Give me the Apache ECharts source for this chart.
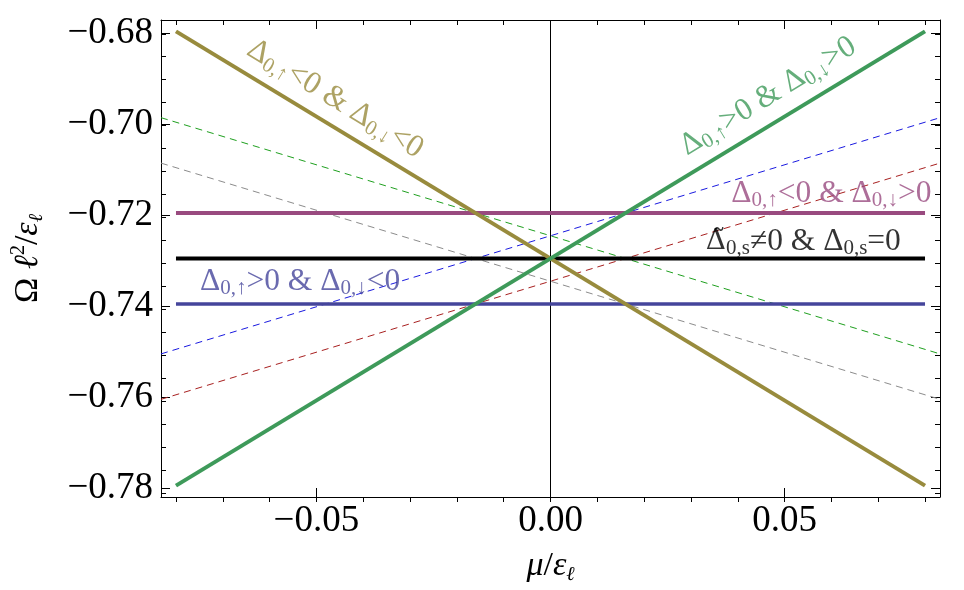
<!DOCTYPE html>
<html>
<head>
<meta charset="utf-8">
<script src="https://cdn.jsdelivr.net/npm/echarts@6/dist/echarts.min.js"></script>
<style>
  html, body { margin: 0; background: #fff; }
  #chart { width: 964px; height: 590px; }
</style>
</head>
<body>
<div id="chart"></div>
<script>
// axis ranges (plot frame)
const xRange = [-0.0832, 0.0832];
const yRange = [-0.782, -0.677];

// solid curves, sampled at their two end points
const xSolid = [-0.08, 0.08];
const oliveY = [-0.6795, -0.7795];
const greenY = [-0.7795, -0.6795];
const purpleY = [-0.7195, -0.7195];
const blackY = [-0.7295, -0.7295];
const navyY = [-0.7395, -0.7395];

// dashed lines, values at the frame edges
const xDash = [-0.0832, 0.0832];
const dashGreenY = [-0.6985, -0.7505];
const dashBlueY = [-0.7505, -0.6985];
const dashGrayY = [-0.7085, -0.7605];
const dashRedY = [-0.7605, -0.7085];

// ticks
const xMajor = [-0.05, 0, 0.05];
const xMinor = [-0.08, -0.07, -0.06, -0.05, -0.04, -0.03, -0.02, -0.01, 0,
  0.01, 0.02, 0.03, 0.04, 0.05, 0.06, 0.07, 0.08];
const yMajor = [-0.78, -0.76, -0.74, -0.72, -0.70, -0.68];
const yMinor = [-0.78, -0.775, -0.77, -0.765, -0.76, -0.755, -0.75, -0.745, -0.74,
  -0.735, -0.73, -0.725, -0.72, -0.715, -0.71, -0.705, -0.70, -0.695, -0.69, -0.685, -0.68];

const C = {
  olive: '#988b3d',
  green: '#3e9a5a',
  purple: '#994a7f',
  navy: '#45459b',
  black: '#000000'
};

const serif = '"Liberation Serif", "DejaVu Serif", serif';

function pairs(xs, ys) {
  return xs.map((x, i) => [x, ys[i]]);
}

function fmt(v) {
  return (v < 0 ? '\u2212' : '') + Math.abs(v).toFixed(2);
}

// region labels: [x, y, rotate, text, colour]
const labels = [
  [-0.0460, -0.6944, -31.5, '{t|Δ}{s|0,↑}{t|<0 & Δ}{s|0,↓}{t|<0}', C.olive],
  [0.0465, -0.6938, 31.5, '{t|Δ}{s|0,↑}{t|>0 & Δ}{s|0,↓}{t|>0}', C.green],
  [0.0600, -0.7152, 0, '{t|Δ}{s|0,↑}{t|<0 & Δ}{s|0,↓}{t|>0}', C.purple],
  [0.0540, -0.7257, 0, '{d|Δ̃}{s|0,s}{t|≠0 & Δ}{s|0,s}{t|=0}', C.black],
  [-0.0535, -0.7346, 0, '{t|Δ}{s|0,↑}{t|>0 & Δ}{s|0,↓}{t|<0}', C.navy]
];

const grid = { left: 161, right: 24, top: 20, bottom: 88 };

function xAx(gridIndex, position, major) {
  return {
    type: 'value', gridIndex, position,
    min: xRange[0], max: xRange[1],
    axisLine: { show: major, onZero: false, lineStyle: { color: '#000', width: 1 } },
    axisTick: { show: true, inside: true, length: major ? 9 : 5,
      customValues: major ? xMajor : xMinor, lineStyle: { color: '#000', width: 1 } },
    axisLabel: { show: major && position === 'bottom', customValues: xMajor,
      formatter: fmt, fontFamily: serif, fontSize: 37, color: '#000', margin: 6 },
    splitLine: { show: false },
    name: major && position === 'bottom' ? '{i|μ}{a|/}{i|ε}{sub|ℓ}' : '',
    nameLocation: 'middle', nameGap: 50,
    nameTextStyle: {
      fontFamily: serif, fontSize: 34, color: '#000',
      rich: {
        i: { fontFamily: serif, fontStyle: 'italic', fontSize: 34, color: '#000', lineHeight: 38 },
        a: { fontFamily: serif, fontSize: 34, color: '#000', lineHeight: 38 },
        sub: { fontFamily: serif, fontStyle: 'italic', fontSize: 20, color: '#000', lineHeight: 22, verticalAlign: 'bottom' }
      }
    }
  };
}

function yAx(gridIndex, position, major) {
  return {
    type: 'value', gridIndex, position,
    min: yRange[0], max: yRange[1],
    axisLine: { show: major, onZero: false, lineStyle: { color: '#000', width: 1 } },
    axisTick: { show: true, inside: true, length: major ? 9 : 5,
      customValues: major ? yMajor : yMinor, lineStyle: { color: '#000', width: 1 } },
    axisLabel: { show: major && position === 'left', customValues: yMajor,
      formatter: fmt, fontFamily: serif, fontSize: 37, color: '#000', margin: 8 },
    splitLine: { show: false },
    name: major && position === 'left' ? '{a|Ω }{i|ℓ}{sup|2}{a|/}{i|ε}{sub|ℓ}' : '',
    nameLocation: 'middle', nameGap: 114, nameRotate: 90,
    nameTextStyle: {
      fontFamily: serif, fontSize: 34, color: '#000',
      rich: {
        i: { fontFamily: serif, fontStyle: 'italic', fontSize: 34, color: '#000', lineHeight: 38 },
        a: { fontFamily: serif, fontSize: 34, color: '#000', lineHeight: 38 },
        sup: { fontFamily: serif, fontSize: 20, color: '#000', lineHeight: 22, verticalAlign: 'top' },
        sub: { fontFamily: serif, fontStyle: 'italic', fontSize: 20, color: '#000', lineHeight: 22, verticalAlign: 'bottom' }
      }
    }
  };
}

function line(xs, ys, color, width, dashed, z) {
  return {
    type: 'line', xAxisIndex: 0, yAxisIndex: 0,
    data: pairs(xs, ys), symbol: 'none', silent: true, z,
    lineStyle: { color, width, type: dashed ? [7, 5] : 'solid' }
  };
}

const chart = echarts.init(document.getElementById('chart'));
chart.setOption({
  animation: false,
  backgroundColor: '#fff',
  grid: [grid, grid],
  xAxis: [xAx(0, 'bottom', true), xAx(0, 'top', true), xAx(1, 'bottom', false), xAx(1, 'top', false)],
  yAxis: [yAx(0, 'left', true), yAx(0, 'right', true), yAx(1, 'left', false), yAx(1, 'right', false)],
  series: [
    // vertical axis line at mu = 0
    line([0, 0], yRange, '#000', 1, false, 1),
    line(xDash, dashGreenY, '#1fa01f', 1, true, 2),
    line(xDash, dashBlueY, '#1a1ae0', 1, true, 2),
    line(xDash, dashGrayY, '#8c8c8c', 1, true, 2),
    line(xDash, dashRedY, '#a82020', 1, true, 2),
    line(xSolid, purpleY, C.purple, 4, false, 3),
    line(xSolid, blackY, C.black, 4, false, 3),
    line(xSolid, navyY, C.navy, 3.5, false, 3),
    line(xSolid, oliveY, C.olive, 4, false, 4),
    line(xSolid, greenY, C.green, 4, false, 4),
    {
      type: 'scatter', xAxisIndex: 0, yAxisIndex: 0, symbolSize: 0, silent: true, z: 5,
      data: labels.map(l => ({
        value: [l[0], l[1]],
        label: {
          show: true, position: 'inside', rotate: l[2], align: 'center', verticalAlign: 'middle',
          formatter: l[3],
          fontFamily: serif, fontSize: 31, color: l[4],
          rich: {
            t: { fontFamily: serif, fontSize: 31.5, color: l[4], lineHeight: 35 },
            d: { fontFamily: '"DejaVu Serif", serif', fontSize: 28, color: l[4], lineHeight: 35 },
            s: { fontFamily: serif, fontSize: 21, color: l[4], lineHeight: 21, verticalAlign: 'bottom' }
          }
        }
      }))
    }
  ]
});
</script>
</body>
</html>
